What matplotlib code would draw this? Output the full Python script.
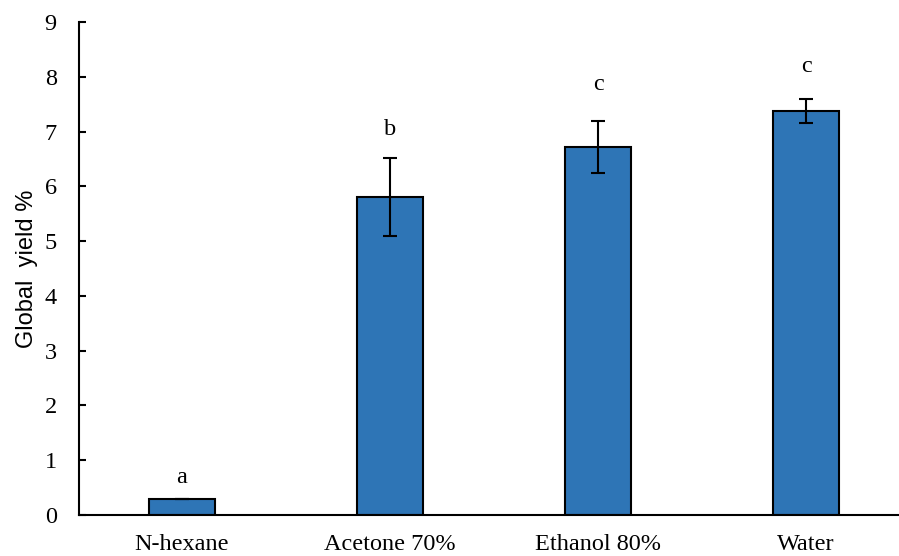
import matplotlib.pyplot as plt
import numpy as np

solvents = ['N-hexane', 'Acetone 70%', 'Ethanol 80%', 'Water']
yield_pct = [0.29, 5.80, 6.72, 7.38]
yield_err = [0.0, 0.71, 0.48, 0.22]
groups = ['a', 'b', 'c', 'c']
group_y = [0.69, 7.04, 7.86, 8.19]

plt.rcParams['font.family'] = ['Liberation Serif', 'DejaVu Serif']

fig = plt.figure(figsize=(8.99, 5.56), dpi=100)
ax = fig.add_axes([0.0879, 0.0737, 0.9121, 0.8867])

x = np.arange(len(solvents))
ax.bar(x, yield_pct, width=0.32, color='#2E75B6', edgecolor='black', linewidth=1.5,
       yerr=yield_err, capsize=5, error_kw=dict(elinewidth=1.5, capthick=1.5, ecolor='black'))

for xi, g, gy in zip(x, groups, group_y):
    ax.text(xi, gy, g, ha='center', va='center', fontsize=17.5)

ax.set_xlim(-0.495, 3.447)
ax.set_ylim(0, 9)
ax.set_yticks(range(0, 10))
ax.set_xticks(x)
ax.set_xticklabels(solvents)
ax.tick_params(axis='y', direction='in', length=5, width=1.5, labelsize=17.5, pad=16)
ax.tick_params(axis='x', length=0, labelsize=17.5, pad=14)
ax.set_ylabel('Global  yield %', fontsize=17, family=['Liberation Sans', 'DejaVu Sans'], labelpad=5)

for side in ['top', 'right']:
    ax.spines[side].set_visible(False)
ax.spines['left'].set_linewidth(1.5)
ax.spines['bottom'].set_linewidth(1.5)

fig.savefig('out.png', dpi=100)
plt.close()
